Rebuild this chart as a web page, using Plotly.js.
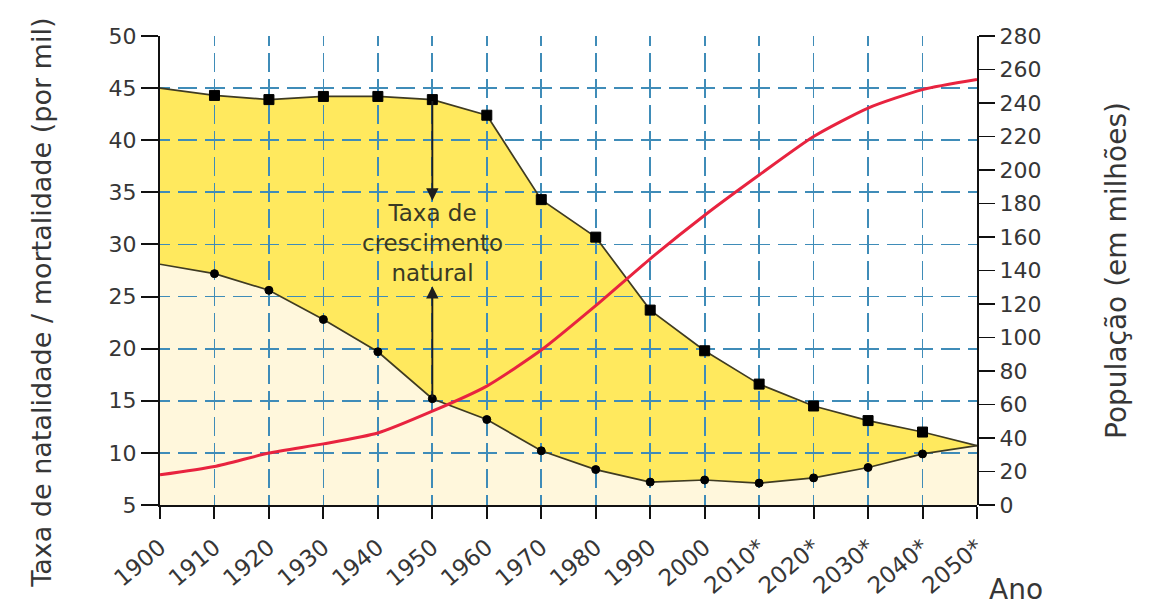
<!DOCTYPE html>
<html>
<head>
<meta charset="utf-8">
<script src="https://cdn.plot.ly/plotly-3.0.1.min.js"></script>
<style>
  html, body { margin: 0; padding: 0; background: #ffffff; }
  #chart { width: 1156px; height: 612px; }
</style>
</head>
<body>
<div id="chart"></div>
<script>
// ---- data ----
const years = [1900, 1910, 1920, 1930, 1940, 1950, 1960, 1970, 1980, 1990, 2000, 2010, 2020, 2030, 2040, 2050];
const yearLabels = ['1900', '1910', '1920', '1930', '1940', '1950', '1960', '1970', '1980', '1990', '2000', '2010*', '2020*', '2030*', '2040*', '2050*'];
const birthRate = [45.0, 44.3, 43.9, 44.2, 44.2, 43.9, 42.4, 34.3, 30.7, 23.7, 19.8, 16.6, 14.5, 13.1, 12.0, 10.7];
const deathRate = [28.1, 27.2, 25.6, 22.8, 19.7, 15.2, 13.2, 10.2, 8.4, 7.2, 7.4, 7.1, 7.6, 8.6, 9.9, 10.7];
const population = [18, 23, 31, 36.5, 43, 56, 71, 92.5, 119, 147, 173, 197, 220, 237, 248, 254];

const rateTicks = [5, 10, 15, 20, 25, 30, 35, 40, 45, 50];
const popTicks = [0, 20, 40, 60, 80, 100, 120, 140, 160, 180, 200, 220, 240, 260, 280];

const leftTitle = 'Taxa de natalidade / mortalidade (por mil)';
const rightTitle = 'População (em milhões)';
const xTitle = 'Ano';
const annotationText = 'Taxa de<br>crescimento<br>natural';
const arrowYear = 1950;
const arrowIdx = years.indexOf(arrowYear);

// ---- styles ----
const FONT = 'DejaVu Sans, Verdana, sans-serif';
const TXT = '#363636';
const GRID = '#3f8cb8';
const LINE = '#3f3b22';
const last = years.length - 1;
const sqSizes = years.map((_, i) => (i === 0 || i === last) ? 0 : 10);
const ciSizes = years.map((_, i) => (i === 0 || i === last) ? 0 : 8);

const traces = [
  // fills (main subplot, beneath the grid)
  { x: years, y: deathRate, xaxis: 'x', yaxis: 'y', mode: 'lines', line: { width: 0 },
    fill: 'tozeroy', fillcolor: '#FFF7DC', hoverinfo: 'skip' },
  { x: years, y: birthRate, xaxis: 'x', yaxis: 'y', mode: 'lines', line: { width: 0 },
    fill: 'tonexty', fillcolor: '#FFE95E', hoverinfo: 'skip' },
  // lines with markers (upper subplot, above the grid)
  { x: years, y: birthRate, xaxis: 'x3', yaxis: 'y3', mode: 'lines+markers',
    line: { color: LINE, width: 1.7 },
    marker: { symbol: 'square', size: sqSizes, color: '#000000', opacity: 1, line: { width: 1, color: '#000000' } }, name: 'Natalidade' },
  { x: years, y: deathRate, xaxis: 'x3', yaxis: 'y3', mode: 'lines+markers',
    line: { color: LINE, width: 1.7 },
    marker: { symbol: 'circle', size: ciSizes, color: '#000000', opacity: 1, line: { width: 1, color: '#000000' } }, name: 'Mortalidade' },
  { x: years, y: population, xaxis: 'x3', yaxis: 'y4', mode: 'lines',
    line: { color: '#E8233F', width: 3, shape: 'spline', smoothing: 0.6 }, name: 'População' }
];

const tickFont = { family: FONT, size: 22, color: TXT };

const layout = {
  width: 1156, height: 612,
  margin: { l: 160, r: 179, t: 36, b: 107 },
  paper_bgcolor: '#ffffff',
  plot_bgcolor: 'rgba(0,0,0,0)',
  showlegend: false,
  font: { family: FONT, color: TXT },
  xaxis: {
    domain: [0, 1], anchor: 'y', range: [1900, 2050],
    tickmode: 'array', tickvals: years, ticktext: yearLabels, tickangle: -40,
    tickfont: { family: FONT, size: 23, color: TXT },
    ticks: 'outside', ticklen: 12, tickwidth: 2, tickcolor: '#111',
    ticklabelstandoff: 6,
    showline: true, linecolor: '#111', linewidth: 2,
    showgrid: false, zeroline: false
  },
  yaxis: {
    domain: [0, 1], anchor: 'x', range: [5, 50],
    tickmode: 'array', tickvals: rateTicks, ticktext: rateTicks.map(String),
    tickfont: tickFont,
    ticks: 'outside', ticklen: 17, tickwidth: 2, tickcolor: '#111',
    showline: true, linecolor: '#111', linewidth: 2,
    showgrid: false, zeroline: false
  },
  xaxis3: {
    domain: [0, 1], anchor: 'y3', range: [1900, 2050],
    tickmode: 'array', tickvals: years.slice(1, last),
    showticklabels: false, ticks: '', showline: false, zeroline: false,
    showgrid: true, gridcolor: GRID, gridwidth: 1.7, griddash: '10px,7px,9px,0px'
  },
  yaxis3: {
    domain: [0, 1], anchor: 'x3', range: [5, 50],
    tickmode: 'array', tickvals: rateTicks.slice(1),
    showticklabels: false, ticks: '', showline: false, zeroline: false,
    showgrid: true, gridcolor: GRID, gridwidth: 1.7, griddash: '10px,8px,9.25px,0px'
  },
  yaxis4: {
    overlaying: 'y3', anchor: 'x3', side: 'right', range: [0, 280],
    tickmode: 'array', tickvals: popTicks, ticktext: popTicks.map(String),
    tickfont: tickFont,
    ticks: 'outside', ticklen: 16, tickwidth: 1.6, tickcolor: '#111',
    showline: true, linecolor: '#111', linewidth: 2,
    showgrid: false, zeroline: false,
    title: { text: rightTitle, font: { family: FONT, size: 28, color: TXT }, standoff: 66 }
  },
  annotations: [
    { xref: 'x3', yref: 'y3', x: arrowYear, y: 34.2, axref: 'x3', ayref: 'y3',
      ax: arrowYear, ay: birthRate[arrowIdx], text: '', showarrow: true,
      arrowhead: 2, arrowsize: 1.3, arrowwidth: 1.9, arrowcolor: '#1e1e1e', standoff: 0, startstandoff: 0 },
    { xref: 'x3', yref: 'y3', x: arrowYear, y: 26.0, axref: 'x3', ayref: 'y3',
      ax: arrowYear, ay: deathRate[arrowIdx], text: '', showarrow: true,
      arrowhead: 2, arrowsize: 1.3, arrowwidth: 1.9, arrowcolor: '#1e1e1e', standoff: 0, startstandoff: 0 },
    { xref: 'x3', yref: 'y3', x: arrowYear, y: 30.1, text: annotationText, showarrow: false,
      font: { family: FONT, size: 23, color: '#3a3a24' }, align: 'center' },
    { xref: 'paper', yref: 'paper', x: -0.145, y: 0.43, xanchor: 'center', yanchor: 'middle',
      textangle: -90, text: leftTitle, showarrow: false,
      font: { family: FONT, size: 27, color: TXT } },
    { xref: 'paper', yref: 'paper', x: 1.012, y: -0.181, xanchor: 'left', yanchor: 'middle',
      text: xTitle, showarrow: false, font: { family: FONT, size: 28, color: TXT } }
  ]
};

Plotly.newPlot('chart', traces, layout, { staticPlot: true, displayModeBar: false });
</script>
</body>
</html>
